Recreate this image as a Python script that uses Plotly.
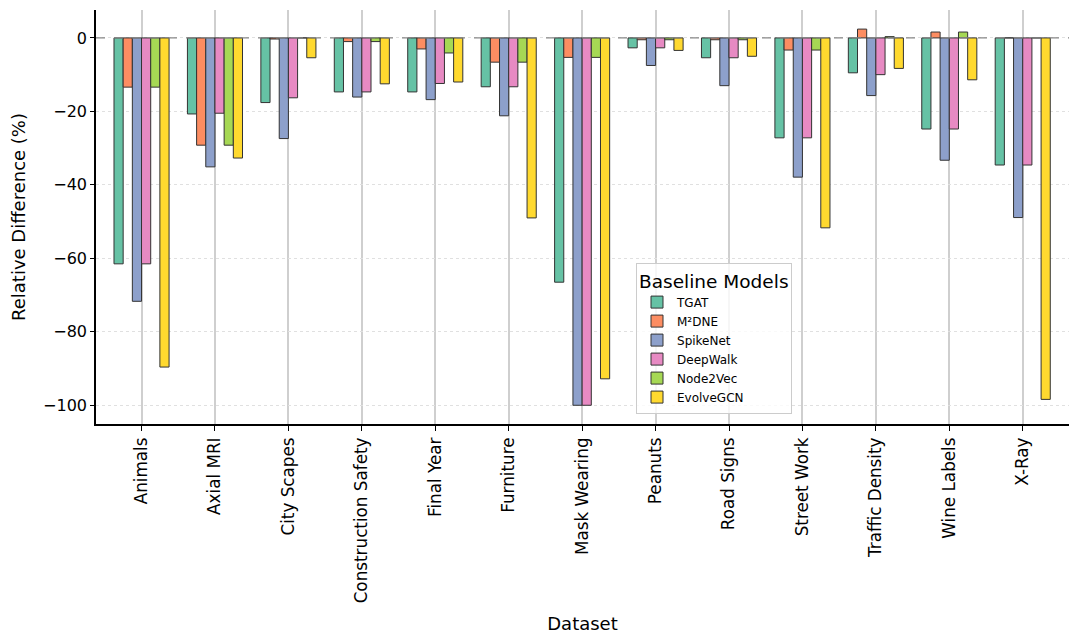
import plotly.graph_objects as go

datasets = ["Animals", "Axial MRI", "City Scapes", "Construction Safety", "Final Year",
            "Furniture", "Mask Wearing", "Peanuts", "Road Signs", "Street Work",
            "Traffic Density", "Wine Labels", "X-Ray"]

models = ["TGAT", "M²DNE", "SpikeNet", "DeepWalk", "Node2Vec", "EvolveGCN"]

tgat      = [-61.5, -20.7, -17.6, -14.7, -14.7, -13.3, -66.5, -2.7, -5.4, -27.2, -9.5, -24.8, -34.6]
m2dne     = [-13.4, -29.2, -0.3, -1.0, -3.0, -6.6, -5.3, -0.5, -0.5, -3.3, 2.4, 1.6, 0.0]
spikenet  = [-71.7, -35.1, -27.4, -16.1, -16.8, -21.2, -100.0, -7.5, -13.0, -37.9, -15.7, -33.3, -48.9]
deepwalk  = [-61.5, -20.5, -16.3, -14.7, -12.4, -13.3, -100.0, -2.7, -5.4, -27.2, -10.0, -24.8, -34.6]
node2vec  = [-13.4, -29.2, 0.0, -1.0, -4.1, -6.6, -5.3, -0.5, -0.5, -3.3, 0.35, 1.6, 0.0]
evolvegcn = [-89.6, -32.7, -5.4, -12.5, -12.0, -49.0, -92.8, -3.4, -5.0, -51.7, -8.3, -11.4, -98.4]

series = [tgat, m2dne, spikenet, deepwalk, node2vec, evolvegcn]
colors = ["#66c2a5", "#fc8d62", "#8da0cb", "#e78ac3", "#a6d854", "#ffd92f"]

fig = go.Figure()
for name, vals, col in zip(models, series, colors):
    fig.add_trace(go.Bar(
        x=datasets, y=vals, name=name,
        marker=dict(color=col, line=dict(color="#333333", width=1)),
    ))

fig.add_shape(type="line", xref="paper", yref="y", x0=0, x1=1, y0=0, y1=0,
              line=dict(color="#888888", width=1.3, dash="dash"), layer="above")

fig.update_layout(
    width=1080, height=640,
    margin=dict(l=88, r=19, t=2, b=224),
    paper_bgcolor="white", plot_bgcolor="white",
    font=dict(family="DejaVu Sans", size=16, color="black"),
    barmode="group", bargap=0.25, bargroupgap=0,
    showlegend=True,
    legend=dict(
        title=dict(text="Baseline Models", font=dict(size=18.5)),
        font=dict(size=12),
        x=0.555, y=0.39, xanchor="left", yanchor="top",
        bgcolor="rgba(255,255,255,0.8)", bordercolor="#cccccc", borderwidth=1,
        tracegroupgap=0,
    ),
    xaxis=dict(
        title=dict(text="Dataset", font=dict(size=18)),
        range=[-0.62, 12.63],
        tickangle=-90,
        showgrid=True, gridcolor="#cfcfcf", gridwidth=1.5,
        showline=True, linecolor="black", linewidth=1.5,
        ticks="outside", ticklen=5, tickcolor="black",
        tickfont=dict(size=16.8),
    ),
    yaxis=dict(
        title=dict(text="Relative Difference (%)", font=dict(size=18)),
        range=[-105.1, 7.6],
        tickvals=[0, -20, -40, -60, -80, -100],
        showgrid=True, gridcolor="#e0e0e0", gridwidth=1, griddash="dot",
        zeroline=False,
        showline=True, linecolor="black", linewidth=1.5,
        ticks="outside", ticklen=4, tickcolor="black",
        tickfont=dict(size=16),
    ),
)

fig.write_html("out.html")
